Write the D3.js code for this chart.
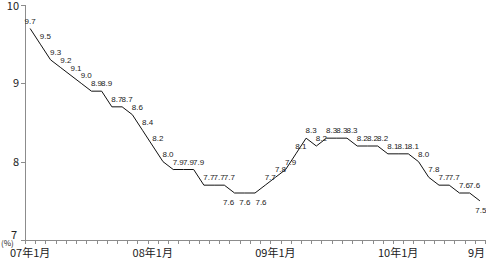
<!DOCTYPE html>
<html>
<head>
<meta charset="utf-8">
<script src="https://cdn.jsdelivr.net/npm/d3@7"></script>
<style>
  body { margin: 0; background: #fff; }
  svg { display: block; font-family: "Noto Sans CJK SC", "DejaVu Sans", sans-serif; }
  .vlab { font-family: "Liberation Sans", Arial, sans-serif; }
</style>
</head>
<body>
<svg width="486" height="261"></svg>
<script>
// monthly values, 07/1 .. 10/9
var months = d3.range(45);
var values = [
  9.7, 9.5, 9.3, 9.2, 9.1, 9.0, 8.9, 8.9, 8.7, 8.7, 8.6, 8.4,
  8.2, 8.0, 7.9, 7.9, 7.9, 7.7, 7.7, 7.7, 7.6, 7.6, 7.6, 7.7,
  7.8, 7.9, 8.1, 8.3, 8.2, 8.3, 8.3, 8.3, 8.2, 8.2, 8.2, 8.1,
  8.1, 8.1, 8.0, 7.8, 7.7, 7.7, 7.6, 7.6, 7.5
];
var yTicks = [7, 8, 9, 10];
var xLabels = [[0, "07年1月"], [12, "08年1月"], [24, "09年1月"], [36, "10年1月"], [44, "9月"]];
// labels drawn under the line
var belowIdx = [20, 21, 22, 44];

var svg = d3.select("svg");
var plotLeft = 25, plotRight = 485, plotTop = 5, plotBottom = 240;

var x = d3.scaleBand().domain(months).range([plotLeft, plotRight]);
var y = d3.scaleLinear().domain([7, 10]).range([plotBottom, plotTop]);
function cx(i) { return x(i) + x.bandwidth() / 2; }

/* axes */
var axisColor = "#8c8c8c";
svg.append("line")
  .attr("x1", plotLeft + 0.5).attr("x2", plotLeft + 0.5)
  .attr("y1", plotTop).attr("y2", plotBottom)
  .attr("stroke", axisColor);
svg.append("line")
  .attr("x1", plotLeft).attr("x2", plotRight)
  .attr("y1", plotBottom + 0.5).attr("y2", plotBottom + 0.5)
  .attr("stroke", axisColor);

svg.selectAll(".ytick")
  .data(yTicks)
  .enter()
  .append("line")
  .attr("x1", plotLeft - 4).attr("x2", plotLeft)
  .attr("y1", function(d) { return Math.round(y(d)) + 0.5; })
  .attr("y2", function(d) { return Math.round(y(d)) + 0.5; })
  .attr("stroke", axisColor);

svg.selectAll(".ylab")
  .data(yTicks)
  .enter()
  .append("text")
  .attr("x", function(d) { return d === 7 ? plotLeft - 8 : plotLeft - 6; })
  .attr("y", function(d) { return d === 10 ? y(d) + 5 : d === 7 ? y(d) - 1 : y(d) + 4; })
  .attr("text-anchor", "end")
  .attr("font-size", 11)
  .attr("fill", "#222")
  .text(function(d) { return d; });

svg.selectAll(".xtick")
  .data(d3.range(46))
  .enter()
  .append("line")
  .attr("x1", function(d) { return Math.round(plotLeft + d * x.step()) + 0.5; })
  .attr("x2", function(d) { return Math.round(plotLeft + d * x.step()) + 0.5; })
  .attr("y1", plotBottom).attr("y2", plotBottom + 4)
  .attr("stroke", axisColor);

svg.selectAll(".xlab")
  .data(xLabels)
  .enter()
  .append("text")
  .attr("x", function(d) { return d[0] === 44 ? plotRight : Math.max(cx(d[0]), 29); })
  .attr("y", 257)
  .attr("text-anchor", function(d) { return d[0] === 44 ? "end" : "middle"; })
  .attr("font-size", 11)
  .attr("fill", "#222")
  .text(function(d) { return d[1]; });

svg.append("text")
  .attr("x", 1).attr("y", 246)
  .attr("font-size", 8)
  .attr("fill", "#222")
  .text("(%)");

/* line */
var line = d3.line()
  .x(function(d, i) { return cx(i); })
  .y(function(d) { return y(d); });

svg.append("path")
  .datum(values)
  .attr("d", line)
  .attr("fill", "none")
  .attr("stroke", "#111")
  .attr("stroke-width", 1);

/* value labels: above-right of the point, a few under the line */
svg.selectAll(".vlab")
  .data(values)
  .enter()
  .append("text")
  .attr("class", "vlab")
  .attr("x", function(d, i) {
    if (i === 0) return cx(i);
    var k = belowIdx.indexOf(i);
    if (k >= 0 && i < 44) return cx(i) + (i - 21) * 6;
    if (i === 44) return cx(i) + 1;
    return cx(i) + 5;
  })
  .attr("y", function(d, i) {
    return belowIdx.indexOf(i) >= 0 ? y(d) + 12 : y(d) - 5;
  })
  .attr("text-anchor", "middle")
  .attr("font-size", 8)
  .attr("fill", "#222")
  .text(function(d) { return d.toFixed(1); });
</script>
</body>
</html>
